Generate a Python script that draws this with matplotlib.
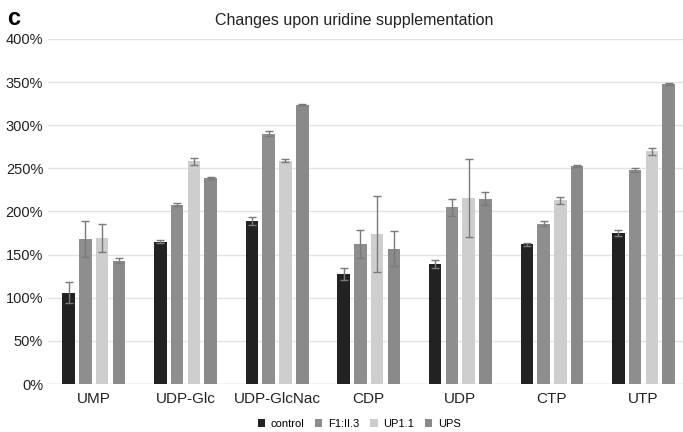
import numpy as np
import matplotlib
matplotlib.use('Agg')
import matplotlib.pyplot as plt
from matplotlib.ticker import PercentFormatter

plt.rcParams['font.family'] = ['Liberation Sans', 'DejaVu Sans']

categories = ['UMP', 'UDP-Glc', 'UDP-GlcNac', 'CDP', 'UDP', 'CTP', 'UTP']
series = ['control', 'F1:II.3', 'UP1.1', 'UPS']

control = [106, 165, 189, 128, 139, 162, 175]
f1 = [168, 208, 290, 162, 205, 186, 248]
up11 = [169, 258, 259, 174, 216, 213, 270]
ups = [143, 239, 324, 157, 215, 253, 348]

control_err = [12, 2, 5, 7, 5, 2, 3]
f1_err = [21, 2, 3, 16, 10, 3, 2]
up11_err = [16, 4, 2, 44, 45, 4, 4]
ups_err = [3, 1, 1, 20, 8, 1, 1]

colors = ['#222222', '#8e8e8e', '#cecece', '#8a8a8a']

fig = plt.figure(figsize=(6.83, 4.32), dpi=100)
ax = fig.add_axes([48 / 683, 48 / 432, 635 / 683, 345 / 432])

x = np.arange(len(categories))
step = 0.183
width = 0.137
vals = [control, f1, up11, ups]
errs = [control_err, f1_err, up11_err, ups_err]
for i in range(4):
    ax.bar(x + (i - 1.5) * step, vals[i], width, color=colors[i], label=series[i],
           yerr=errs[i], ecolor='#7a7a7a', capsize=3,
           error_kw={'elinewidth': 1, 'capthick': 1}, zorder=3)

ax.set_xlim(-0.5, 6.43)
ax.set_ylim(0, 400)
ax.set_yticks(range(0, 401, 50))
ax.yaxis.set_major_formatter(PercentFormatter(decimals=0))
ax.set_xticks(x)
ax.set_xticklabels(categories)
ax.grid(axis='y', color='#e3e3e3', linewidth=1, zorder=0)
for s in ax.spines.values():
    s.set_visible(False)
ax.axhline(0, color='#d8d8d8', linewidth=1, zorder=2)
ax.tick_params(length=0, labelsize=10.5, colors='#222222')
ax.tick_params(axis='x', pad=6, labelsize=11)

fig.text(0.518, 0.952, 'Changes upon uridine supplementation', ha='center', va='center',
         fontsize=11.5, color='#222222')
fig.text(0.01, 0.958, 'c', ha='left', va='center', fontsize=17, fontweight='bold')

ax.legend(loc='center', bbox_to_anchor=(0.49, -0.116), ncol=4, frameon=False,
          fontsize=8, handlelength=0.65, handleheight=0.65, handletextpad=0.5,
          columnspacing=1.0)

plt.savefig('out.png', dpi=100)
